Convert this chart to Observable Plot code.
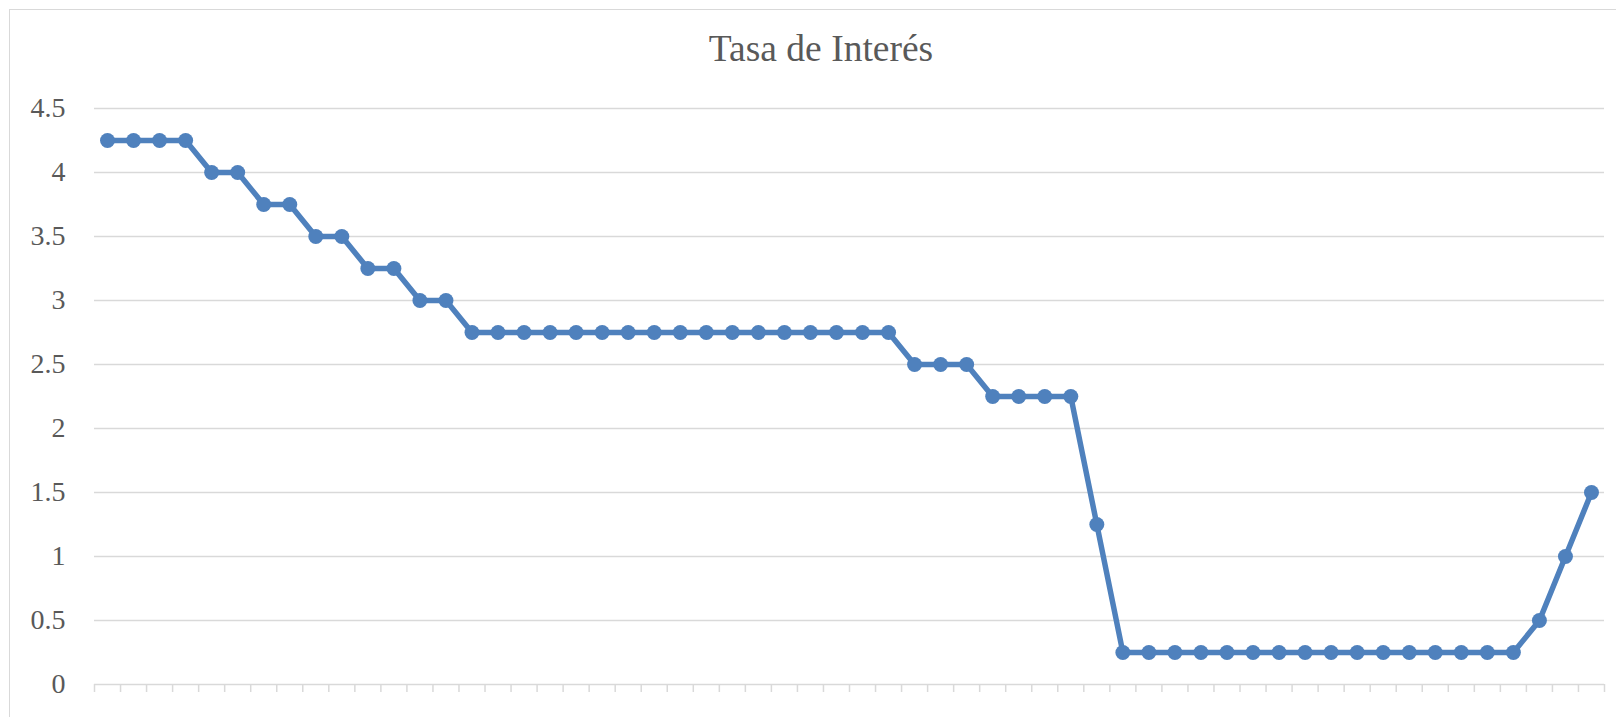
<!DOCTYPE html>
<html>
<head>
<meta charset="utf-8">
<script src="https://cdn.jsdelivr.net/npm/d3@7"></script>
<script src="https://cdn.jsdelivr.net/npm/@observablehq/plot@0.6"></script>
<style>
  html, body { margin: 0; padding: 0; background: #fff; }
  #wrap { position: relative; width: 1616px; height: 717px; overflow: hidden; }
  #frame { position: absolute; left: 9px; top: 9px; width: 1640px; height: 740px; border: 1.5px solid #d9d9d9; box-sizing: border-box; }
  #title { position: absolute; left: 0; width: 1642px; top: 30px; text-align: center; font-family: "Liberation Serif", "Times New Roman", serif; font-size: 37.5px; color: #595959; line-height: 1; }
  #chart { position: absolute; left: 0; top: 0; }
  #chart svg text { font-family: "Liberation Serif", "Times New Roman", serif; }
</style>
</head>
<body>
<div id="wrap">
  <div id="frame"></div>
  <div id="title">Tasa de Interés</div>
  <div id="chart"></div>
</div>
<script>
const title = "Tasa de Interés";
const rates = [
  4.25, 4.25, 4.25, 4.25,
  4.0, 4.0,
  3.75, 3.75,
  3.5, 3.5,
  3.25, 3.25,
  3.0, 3.0,
  2.75, 2.75, 2.75, 2.75, 2.75, 2.75, 2.75, 2.75, 2.75, 2.75, 2.75, 2.75, 2.75, 2.75, 2.75, 2.75, 2.75,
  2.5, 2.5, 2.5,
  2.25, 2.25, 2.25, 2.25,
  1.25,
  0.25, 0.25, 0.25, 0.25, 0.25, 0.25, 0.25, 0.25, 0.25, 0.25, 0.25, 0.25, 0.25, 0.25, 0.25, 0.25,
  0.5, 1.0, 1.5
];
const periods = rates.map((_, i) => i + 1);
const yTicks = [0, 0.5, 1, 1.5, 2, 2.5, 3, 3.5, 4, 4.5];
const yLabels = ["0", "0.5", "1", "1.5", "2", "2.5", "3", "3.5", "4", "4.5"];

const data = periods.map((p, i) => ({period: p, rate: rates[i]}));
const boundaries = d3.range(0, periods.length + 1).map(k => k + 0.5);

const lineColor = "#4f81bd";
const gridColor = "#d9d9d9";

const chart = Plot.plot({
  width: 1616,
  height: 717,
  marginTop: 108,
  marginBottom: 33,
  marginLeft: 94,
  marginRight: 12,
  style: {background: "transparent", fontFamily: "'Liberation Serif', 'Times New Roman', serif"},
  x: {type: "linear", domain: [0.5, periods.length + 0.5], axis: null},
  y: {type: "linear", domain: [0, 4.5], axis: null},
  marks: [
    Plot.ruleY(yTicks, {y: d => d, stroke: gridColor, strokeWidth: 1.5}),
    Plot.ruleX(boundaries, {x: d => d, y1: 0, y2: 0, insetBottom: -8, stroke: gridColor, strokeWidth: 1.5}),
    Plot.axisY(yTicks, {
      tickSize: 0, tickPadding: 29, fontSize: 28, color: "#595959",
      fontFamily: "'Liberation Serif', 'Times New Roman', serif",
      tickFormat: d => yLabels[yTicks.indexOf(d)], label: null
    }),
    Plot.line(data, {x: "period", y: "rate", stroke: lineColor, strokeWidth: 5.5, strokeLinejoin: "round"}),
    Plot.dot(data, {x: "period", y: "rate", fill: lineColor, r: 7.5})
  ]
});
document.getElementById("chart").appendChild(chart);
</script>
</body>
</html>
